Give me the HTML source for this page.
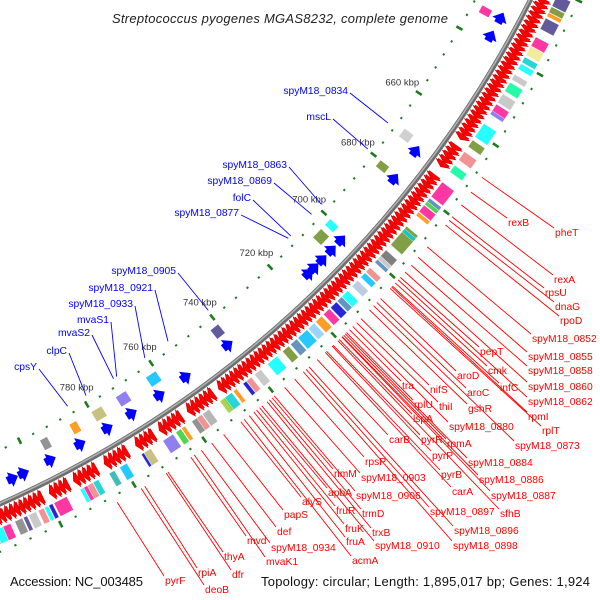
<!DOCTYPE html>
<html>
<head>
<meta charset="utf-8">
<style>
  html,body{margin:0;padding:0;background:#fff;}
  svg{display:block;}
  text{font-family:"Liberation Sans","DejaVu Sans",sans-serif;}
</style>
</head>
<body>
<svg id="map" width="600" height="600" viewBox="0 0 600 600" xmlns="http://www.w3.org/2000/svg">
  <rect x="0" y="0" width="600" height="600" fill="#ffffff"/>
  <g id="rings"></g>
  <g id="features"></g>
  <g id="labels"></g>
  <text x="112" y="23" font-size="13" font-style="italic" fill="#222" textLength="336" lengthAdjust="spacing">Streptococcus pyogenes MGAS8232, complete genome</text>
  <text x="10" y="586" font-size="13" fill="#111" textLength="133" lengthAdjust="spacing">Accession: NC_003485</text>
  <text x="261" y="586" font-size="13" fill="#111" textLength="329" lengthAdjust="spacing">Topology: circular; Length: 1,895,017 bp; Genes: 1,924</text>
</svg>
<script>
// ---- data (kbp) ----
const tickLabels = [660, 680, 700, 720, 740, 760, 780];
const fwdStart = [600.0,601.3,602.6,603.9,605.2,606.5,607.8,609.1,610.4,611.7,613.0,614.3,615.6,616.9,618.2,619.5,620.8,622.1,623.4,624.7,626.0,627.3,628.6,629.9,631.2,632.5,633.8,635.1,636.4,637.7,639.0,640.3,641.6,642.9,644.2,645.5,646.8,648.1,649.4,650.7,652.0,653.3,654.6,655.9,657.2,658.5,659.8,661.1,662.4,
 665.5,666.8,668.1,669.4,670.7,
 674.5,675.8,677.1,678.4,679.7,681.0,682.3,683.6,684.9,686.2,687.5,688.8,690.1,691.4,692.7,694.0,695.3,696.6,697.9,699.2,700.5,701.8,703.1,704.4,705.7,707.0,708.3,709.6,710.9,712.2,713.5,714.8,716.1,717.4,718.7,720.0,721.3,722.6,723.9,725.2,726.5,727.8,729.1,730.4,731.7,733.0,734.3,735.6,736.9,738.2,739.5,740.8,742.1,743.4,744.7,746.0,747.3,748.6,
 751.6,752.9,754.2,755.5,756.8,758.1,
 761.3,762.6,763.9,765.2,766.5,
 769.5,770.8,772.1,773.4,
 777.2,778.5,779.8,781.1,782.4,
 785.9,787.2,788.5,789.8,791.1,
 793.9,795.2,796.5,797.8,
 801.0,802.3,803.6,804.9,806.2,807.5,808.8,810.1,811.4,812.7,814.0,815.3,816.6,817.9,819.2,820.5,821.8,823.1,824.4,825.7,827.0,828.3];
const fwdLen = 1.35;
const revStart = [631,636.2,671.1,680,700.6,704.1,707.5,710.4,712.5,739.8,753.2,761.3,769.8,777,785,793.6,801.2,804.3];
const revLen = 3.0;
const fwdCogStart = [621,624.2,625.8,627.3,632.5,635.1,638.1,640,643,645.3,648.6,651.6,653.5,657.2,662.1,665.6,669.7,674.8,679.8,680.8,682,684.2,688.7,689.5,696.4,698.4,699.5,702.2,704,706.6,710.1,712.2,714,716.4,719,721.5,723.9,727.3,729.9,733.7,738.8,741.8,743.4,746.4,747.9,750,754.8,757,758.5,762,763.2,765.5,772,774,778.9,782.4,786.9,788.5,790,791,795.7,799.6,800.8,802,804.1,806.5,807.8,811,813,815,818,821,824,827];
const fwdCogLen = [3,1.5,1,3,2.5,2.5,1.5,1.5,1.5,2.5,2.5,2,1,4,2,2.5,2,4.5,1,1,2,1,6,1,2,1,1,1.5,1.5,2,2,1.5,2,2,2,2,3,2,2,3,2,1.5,1,1,2.5,1.5,2,1.5,1.5,1,1.5,3,2,0.7,2,1.5,1.5,1.5,1,1,3.5,1,1,1.5,2,1,2,2,2,2,2.5,2,2.5,2];
const fwdCogColor = ['#483d8b','#6b8e23','#ff8c00','#483d8b','#ff1493','#f0e68c','#00ced1','#00ffff','#c0c0c0','#00fa9a','#c0c0c0','#ff1493','#7b68ee','#00ffff','#6b8e23','#f08080','#00fa9a','#ff1493','#4682b4','#32cd32','#ff1493','#ff8c00','#6b8e23','#00ced1','#696969','#c0c0c0','#4682b4','#f08080','#00bfff','#b0c4de','#00ffff','#4682b4','#0000cd','#ff1493','#ff8c00','#87cefa','#00bfff','#4682b4','#6b8e23','#00ffff','#c0c0c0','#f08080','#0000cd','#ff8c00','#00ced1','#9acd32','#a9a9a9','#f08080','#808080','#ff8c00','#32cd32','#7b68ee','#bdb76b','#0000cd','#00bfff','#20b2aa','#00ced1','#f08080','#ff1493','#00ffff','#ff1493','#0000cd','#00ffff','#f08080','#c0c0c0','#483d8b','#808080','#ff1493','#00ffff','#f08080','#c0c0c0','#ff1493','#00bfff','#808080'];
const revCogStart = [631.9,669.7,680,700.1,703.6,740,760.3,769.6,777,784.6,793.2];
const revCogLen = [2,2.5,2,2,3,2.5,3,3,3,2,2];
const revCogColor = ['#ff1493','#c8c8c8','#6b8e23','#00ffff','#6b8e23','#483d8b','#00bfff','#7b68ee','#bdb76b','#ff8c00','#808080'];
const fwdLabelText = ['pheT','rexB','rexA','rpsU','dnaG','rpoD','spyM18_0852','pepT','spyM18_0855','cmk','spyM18_0858','aroD','infC','spyM18_0860','tra','nifS','aroC','spyM18_0862','rplU','thiI','gshR','rpmI','lspA','rplT','spyM18_0880','carB','pyrR','rpmA','spyM18_0873','pyrP','spyM18_0884','rpsP','rimM','spyM18_0903','pyrB','spyM18_0886','carA','spyM18_0887','apbA','spyM18_0906','alyS','sfhB','spyM18_0897','fruR','trmD','fruK','papS','trxB','spyM18_0896','fruA','spyM18_0910','spyM18_0898','def','mvd','spyM18_0934','acmA','mvaK1','thyA','dfr','rpiA','pyrF','deoB'];
const fwdLabelPos = [668.2,672.6,676.4,680,681.1,682.5,689.3,699,692.6,700.8,695.1,705.9,701.8,697.3,716.4,712.6,707.2,699.8,717.4,714,709.7,702.1,719.8,702.6,715.3,726.9,721.8,718.3,708.3,722.1,717.8,734,741,737.1,723.9,718.8,724.3,718.9,744.8,740.3,750.4,720.2,730.4,745.7,741.8,746.5,755.5,742.5,729.5,747.9,744.1,731.3,759,765,762,749.4,764,771.5,772,778,785.6,779];
const fwdLabelX = [555,508,554,545,555,560,532,480,528,488,528,457,500,528,402,430,467,528,414,439,468,528,413,542,449,389,421,447,515,432,468,365,334,361,441,479,452,491,328,356,302,500,430,336,362,345,284,372,454,346,375,453,277,247,271,352,266,224,232,198,165,205];
const fwdLabelY = [232,222,279,292,306,320,338,351,356,370,370,375,387,386,385,389,392,401,404,406,408,416,418,430,426,439,439,443,445,455,462,461,473,477,474,479,491,495,492,495,501,513,511,510,513,528,514,532,530,541,545,545,531,540,547,560,561,556,574,572,580,589];
const revLabelText = ['spyM18_0834','mscL','spyM18_0863','spyM18_0869','folC','spyM18_0877','spyM18_0905','spyM18_0921','spyM18_0933','mvaS1','mvaS2','clpC','cpsY'];
const revLabelPos = [671.1,679.8,698.8,702.5,710.4,711.3,739.7,753.1,760.6,769.5,770.5,779,784.6];
const revLabelX = [348,331,287,272,251,239,176,153,133,109,90,67,37];
const revLabelY = [90,116,164,180,197,212,270,287,303,319,332,350,366];

// ---- geometry ----
const CX = -440, CY = -490;
const R_BACK = 1087, R_FWD1 = 1090, R_FWD2 = 1107, R_FCOG1 = 1109, R_FCOG2 = 1124;
const R_ODOT = 1131, R_REV1 = 1062, R_REV2 = 1076, R_RCOG1 = 1047, R_RCOG2 = 1058, R_IDOT = 1038;
const R_TICKLBL = 1018, R_FLINE = 1138, R_RLINE = 1030;
const NS = 'http://www.w3.org/2000/svg';
function ang(pos){ return (34.17 + (pos - 660) * 0.2111) * Math.PI / 180; }
function pt(pos, r){ const a = ang(pos); return [CX + r * Math.cos(a), CY + r * Math.sin(a)]; }
function f(p){ return p[0].toFixed(2) + ',' + p[1].toFixed(2); }
function mk(tag, parent){ const el = document.createElementNS(NS, tag); parent.appendChild(el); return el; }
function sector(s, e, r1, r2){
  const a = pt(s, r1), b = pt(s, r2), c = pt(e, r2), d = pt(e, r1);
  return 'M' + f(a) + 'L' + f(b) + 'A' + r2 + ',' + r2 + ' 0 0 1 ' + f(c) + 'L' + f(d) + 'A' + r1 + ',' + r1 + ' 0 0 0 ' + f(a) + 'Z';
}
const rings = document.getElementById('rings');
const feats = document.getElementById('features');
const labs = document.getElementById('labels');

// backbone
let bb = mk('circle', rings);
bb.setAttribute('cx', CX); bb.setAttribute('cy', CY); bb.setAttribute('r', R_BACK);
bb.setAttribute('fill', 'none'); bb.setAttribute('stroke', '#6e6e6e'); bb.setAttribute('stroke-width', '5');


let bb2 = mk('circle', rings);
bb2.setAttribute('cx', CX); bb2.setAttribute('cy', CY); bb2.setAttribute('r', R_BACK - 0.8);
bb2.setAttribute('fill', 'none'); bb2.setAttribute('stroke', '#b0b0b0'); bb2.setAttribute('stroke-width', '1.6');



// dotted rings & ticks
for (let p = 600; p <= 840; p += 4) {
  [R_IDOT, R_ODOT].forEach(function(r){
    const major = (p % 20 === 0);
    const a = pt(p, major ? r - 3.5 : r - 1), b = pt(p, major ? r + 3.5 : r + 1);
    const ln = mk('line', rings);
    ln.setAttribute('x1', a[0]); ln.setAttribute('y1', a[1]); ln.setAttribute('x2', b[0]); ln.setAttribute('y2', b[1]);
    ln.setAttribute('stroke', '#1e7b1e'); ln.setAttribute('stroke-width', major ? 2.6 : 2.2);
    
    
  });
}
tickLabels.forEach(function(v){
  const p = pt(v, R_TICKLBL);
  const t = mk('text', rings);
  t.setAttribute('x', p[0]); t.setAttribute('y', p[1] + 3.5);
  t.setAttribute('font-size', '9.5'); t.setAttribute('fill', '#333'); t.setAttribute('text-anchor', 'middle');
  t.textContent = v + ' kbp';
  
  
});

// reverse COG boxes
revCogStart.forEach(function(s, i){
  const pth = mk('path', feats);
  pth.setAttribute('d', sector(s, s + revCogLen[i], R_RCOG1, R_RCOG2));
  pth.setAttribute('fill', revCogColor[i]); pth.setAttribute('fill-opacity', '0.85');
  
  
});
// forward COG boxes
fwdCogStart.forEach(function(s, i){
  const pth = mk('path', feats);
  pth.setAttribute('d', sector(s, s + fwdCogLen[i], R_FCOG1, R_FCOG2));
  pth.setAttribute('fill', fwdCogColor[i]); pth.setAttribute('fill-opacity', '0.85');
  pth.setAttribute('stroke', '#ffffff'); pth.setAttribute('stroke-width', '0.4');
  
  
});
// forward genes (red arrows)
fwdStart.forEach(function(s){
  const e = s + fwdLen, h = 1.0, m = (R_FWD1 + R_FWD2) / 2;
  const pts = [pt(s, R_FWD1 + 2), pt(s, R_FWD2 - 2), pt(e - h, R_FWD2 - 2), pt(e - h, R_FWD2), pt(e, m), pt(e - h, R_FWD1), pt(e - h, R_FWD1 + 2)];
  const pg = mk('polygon', feats);
  pg.setAttribute('points', pts.map(f).join(' '));
  pg.setAttribute('fill', '#ff0000'); pg.setAttribute('stroke', '#c80000'); pg.setAttribute('stroke-width', '0.6');
  
  
});
// reverse genes (blue arrows)
revStart.forEach(function(s){
  const e = s + revLen, h = 2.2, m = (R_REV1 + R_REV2) / 2;
  const pts = [pt(s, m), pt(s + h, R_REV2 + 1), pt(s + h, R_REV2 - 3), pt(e, R_REV2 - 3), pt(e, R_REV1 + 3), pt(s + h, R_REV1 + 3), pt(s + h, R_REV1 - 1)];
  const pg = mk('polygon', feats);
  pg.setAttribute('points', pts.map(f).join(' '));
  pg.setAttribute('fill', '#0000ff');
  
  
});

// forward labels (red)
fwdLabelText.forEach(function(txt, i){
  const a = pt(fwdLabelPos[i], R_FLINE);
  const ln = mk('line', labs);
  ln.setAttribute('x1', a[0]); ln.setAttribute('y1', a[1]);
  ln.setAttribute('x2', fwdLabelX[i] - 1); ln.setAttribute('y2', fwdLabelY[i] - 4);
  ln.setAttribute('stroke', '#ff0000'); ln.setAttribute('stroke-width', '0.9');
  
  
  const t = mk('text', labs);
  t.setAttribute('x', fwdLabelX[i]); t.setAttribute('y', fwdLabelY[i] + 4);
  t.setAttribute('font-size', '10.3'); t.setAttribute('fill', '#ff0000');
  t.textContent = txt;
  
  
});
// reverse labels (blue)
revLabelText.forEach(function(txt, i){
  const a = pt(revLabelPos[i], R_RLINE);
  const ln = mk('line', labs);
  ln.setAttribute('x1', revLabelX[i] + 2); ln.setAttribute('y1', revLabelY[i] + 3);
  ln.setAttribute('x2', a[0]); ln.setAttribute('y2', a[1]);
  ln.setAttribute('stroke', '#0000ff'); ln.setAttribute('stroke-width', '0.9');
  
  
  const t = mk('text', labs);
  t.setAttribute('x', revLabelX[i]); t.setAttribute('y', revLabelY[i] + 4);
  t.setAttribute('font-size', '10.3'); t.setAttribute('fill', '#0000ff'); t.setAttribute('text-anchor', 'end');
  t.textContent = txt;
  
  
});
</script>
</body>
</html>
